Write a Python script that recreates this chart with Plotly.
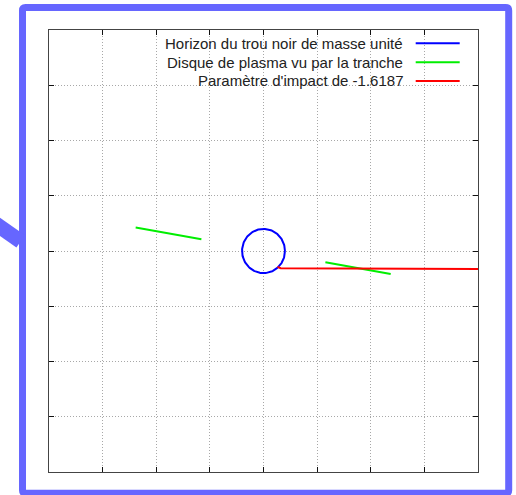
import numpy as np
import plotly.graph_objects as go

# ---- data ----
series_names = [
    "Horizon du trou noir de masse unité",
    "Disque de plasma vu par la tranche",
    "Paramètre d'impact de -1.6187",
]
series_colors = ["#0000ff", "#00ee00", "#ff0000"]

horizon_radius = 2.0  # Schwarzschild radius for unit mass

disk_x = [-11.92, -5.79, None, 5.77, 11.86]
disk_y = [2.12, 1.07, None, -1.01, -2.09]

ray_x = [20.0, 1.85, 1.6, 1.3]
ray_y = [-1.6187, -1.6187, -1.56, -1.44]

axis_range = [-20, 20]
grid_step = 5

# ---- figure ----
theta = np.linspace(0, 2 * np.pi, 181)
hx = horizon_radius * np.cos(theta)
hy = horizon_radius * np.sin(theta)

fig = go.Figure()
fig.add_trace(go.Scatter(x=hx, y=hy, mode="lines", name=series_names[0],
                         line=dict(color=series_colors[0], width=2), showlegend=False,
                         hoverinfo="skip"))
fig.add_trace(go.Scatter(x=disk_x, y=disk_y, mode="lines", name=series_names[1],
                         line=dict(color=series_colors[1], width=2), showlegend=False,
                         hoverinfo="skip"))
fig.add_trace(go.Scatter(x=ray_x, y=ray_y, mode="lines", name=series_names[2],
                         line=dict(color=series_colors[2], width=2), showlegend=False,
                         hoverinfo="skip"))

W, H = 516, 495
L, R, T, B = 49.3, 478.3, 30.0, 472.3


def px(xp):
    return (xp - L) / (R - L)


def py(yp):
    return (B - yp) / (B - T)


def dx(xp):
    return axis_range[0] + (xp - L) / (R - L) * (axis_range[1] - axis_range[0])


def dy(yp):
    return axis_range[1] - (yp - T) / (B - T) * (axis_range[1] - axis_range[0])


axis_common = dict(
    range=axis_range, dtick=grid_step, tick0=0, showticklabels=False,
    ticks="inside", ticklen=5, tickcolor="#111", tickwidth=1,
    showline=True, linecolor="#444", linewidth=1, mirror="ticks",
    showgrid=True, gridcolor="#a8a8a8", gridwidth=1, griddash="1px,2px",
    zeroline=False, fixedrange=True,
)

shapes = []
# white key box hiding the grid behind the legend (axis refs -> drawn above grid, below traces)
shapes.append(dict(type="rect", xref="x", yref="y", layer="below",
                   x0=dx(70), x1=axis_range[1], y0=dy(92), y1=axis_range[1],
                   fillcolor="white", line=dict(width=0)))
# outer decorative frame with slightly rounded corners
frame_col = "#6666ff"
fx0, fx1, fy0, fy1 = px(22.8), px(509), py(7.5), py(493.5)
rx, ry = 3.0 / (R - L), 3.0 / (B - T)
frame_path = (
    f"M {fx0 + rx},{fy0} L {fx1 - rx},{fy0} Q {fx1},{fy0} {fx1},{fy0 - ry} "
    f"L {fx1},{fy1 + ry} Q {fx1},{fy1} {fx1 - rx},{fy1} "
    f"L {fx0 + rx},{fy1} Q {fx0},{fy1} {fx0},{fy1 + ry} "
    f"L {fx0},{fy0 - ry} Q {fx0},{fy0} {fx0 + rx},{fy0} Z"
)
shapes.append(dict(type="path", xref="paper", yref="paper", layer="above",
                   path=frame_path,
                   line=dict(color=frame_col, width=7), fillcolor="rgba(0,0,0,0)"))
# diagonal band on the left
shapes.append(dict(type="line", xref="paper", yref="paper", layer="above",
                   x0=px(-6), y0=py(222.6), x1=px(21), y1=py(241.5),
                   line=dict(color=frame_col, width=15)))

annotations = []
leg_y = [43.3, 62.3, 81.0]
for name, col, yy in zip(series_names, series_colors, leg_y):
    annotations.append(dict(xref="paper", yref="paper", x=px(405), y=py(yy),
                            text=name, showarrow=False, xanchor="right", yanchor="middle",
                            font=dict(family="Liberation Sans, Arial, sans-serif",
                                      size=15, color="#222")))
    shapes.append(dict(type="line", xref="paper", yref="paper", layer="above",
                       x0=px(416), x1=px(460), y0=py(yy), y1=py(yy),
                       line=dict(color=col, width=2)))

fig.update_layout(
    width=W, height=H,
    margin=dict(l=L, r=W - R, t=T, b=H - B, pad=0),
    paper_bgcolor="white", plot_bgcolor="white",
    xaxis=axis_common, yaxis=axis_common,
    shapes=shapes, annotations=annotations,
    showlegend=False, hovermode=False,
)

fig.write_html("out.html",
               config={"displayModeBar": False, "staticPlot": True},
               post_script="document.body.style.margin='0px';document.body.style.padding='0px';")
